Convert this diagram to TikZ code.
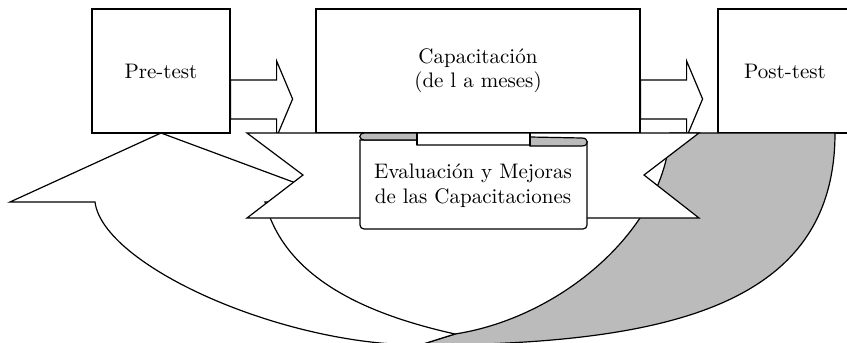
\documentclass[tikz,border=0pt]{standalone}
\usepackage{tikz}
\definecolor{bandgray}{RGB}{187,187,187}

\begin{document}
\begin{tikzpicture}[x=0.5pt,y=-0.5pt,line width=0.6pt,line join=miter,
  box/.style={draw,fill=white,align=center,inner sep=0pt,font=\fontsize{10.5}{12}\selectfont},
  shade part/.style={draw,fill=bandgray}]

  \clip (0,0) rectangle (847,343);

  \node[box,minimum width=69pt,minimum height=62pt] (pre) at (161,71) {Pre-test};
  \node[box,minimum width=162pt,minimum height=62pt] (cap) at (478,71) {Capacitación\\(de l a meses)};
  \node[box,minimum width=67pt,minimum height=62pt] (post) at (785,71) {Post-test};

  % back of the ribbon
  \filldraw[shade part] (670,133) -- (835,133) .. controls (835,300) and (680,345) .. (420,345)
    -- (455,334) .. controls (560,318) and (665,230) .. (670,133) -- cycle;
  % front of the ribbon and its head
  \filldraw[fill=white] (95,202) .. controls (103,265) and (280,345) .. (420,345) -- (455,334)
    .. controls (370,315) and (285,280) .. (265,202) -- (347,202) -- (161,133) -- (10,202) -- cycle;

  \foreach \n in {pre,cap}
    \filldraw[fill=white] (\n.east) ++(0,9) -- ++(46,0) -- ++(0,-19) -- ++(16,38)
      -- ++(-16,38) -- ++(0,-18) -- ++(-46,0) -- cycle;

  % banner
  \filldraw[fill=white] (247,133) -- (699,133) -- (644,175) -- (699,218) -- (247,218) -- (303,175) -- cycle;

  % scroll
  \filldraw[fill=white] (360,140) [rounded corners=2pt] -- (360,229) -- (587,229) [sharp corners]
    -- (587,142) -- (530,142) -- (530,145) -- (417,145) -- (417,140) -- cycle;
  \filldraw[shade part] (417,133) -- (365,133) .. controls (358,133) and (358,140) .. (365,140) -- (417,140) -- cycle;
  \filldraw[shade part] (530,137) -- (582,138) .. controls (589,138) and (589,146) .. (582,146) -- (530,146) -- cycle;
  \draw (417,133) -- (417,145);
  \draw (530,133) -- (530,146);
  \node[align=center,font=\fontsize{10.5}{12.5}\selectfont] (eval) at (473,186) {Evaluación y Mejoras\\de las Capacitaciones};

\end{tikzpicture}
\end{document}
